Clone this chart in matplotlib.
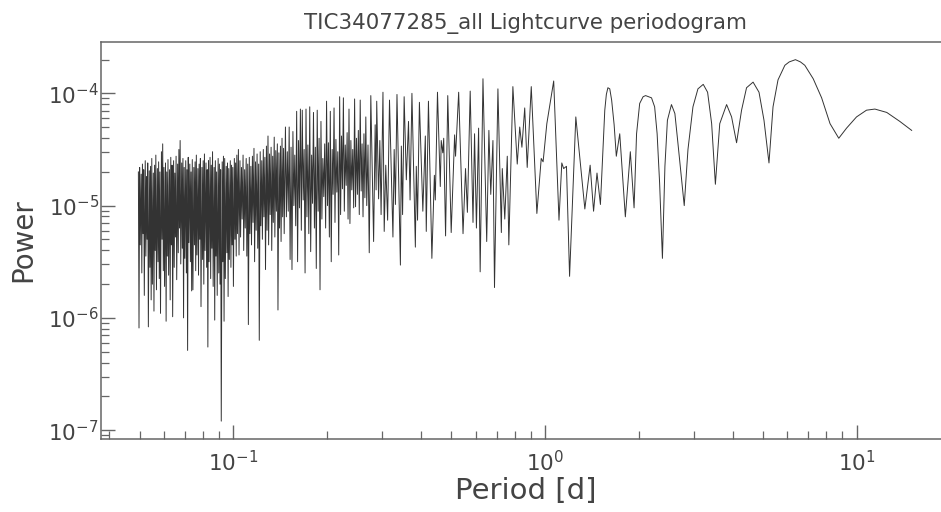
import numpy as np
import matplotlib
matplotlib.use("Agg")
import matplotlib.pyplot as plt

# values, in log10 units (period in days, power)
# dense part, 0.05 d .. 0.104 d
logp_a = [-1.305, -1.303, -1.301, -1.299, -1.296, -1.294, -1.292, -1.290, -1.288, -1.286,
          -1.283, -1.281, -1.279, -1.277, -1.275, -1.273, -1.270, -1.268, -1.266, -1.264,
          -1.262, -1.260, -1.257, -1.255, -1.253, -1.251, -1.249, -1.247, -1.244, -1.242,
          -1.240, -1.238, -1.236, -1.234, -1.231, -1.229, -1.227, -1.225, -1.223, -1.221,
          -1.218, -1.216, -1.214, -1.212, -1.210, -1.208, -1.205, -1.203, -1.201, -1.199,
          -1.197, -1.195, -1.192, -1.190, -1.188, -1.186, -1.184, -1.182, -1.179, -1.177,
          -1.175, -1.173, -1.171, -1.169, -1.166, -1.164, -1.162, -1.160, -1.158, -1.156,
          -1.153, -1.151, -1.149, -1.147, -1.145, -1.143, -1.140, -1.138, -1.136, -1.134,
          -1.132, -1.130, -1.127, -1.125, -1.123, -1.121, -1.119, -1.117, -1.114, -1.112,
          -1.110, -1.108, -1.106, -1.104, -1.101, -1.099, -1.097, -1.095, -1.093, -1.091,
          -1.088, -1.086, -1.084, -1.082, -1.080, -1.078, -1.075, -1.073, -1.071, -1.069,
          -1.067, -1.065, -1.062, -1.060, -1.058, -1.056, -1.054, -1.052, -1.049, -1.047,
          -1.045, -1.043, -1.041, -1.039, -1.036, -1.034, -1.032, -1.030, -1.028, -1.026,
          -1.023, -1.021, -1.019, -1.017, -1.015, -1.013, -1.010, -1.008, -1.006, -1.004,
          -1.002, -1.000, -0.997, -0.995, -0.993, -0.991, -0.989, -0.987, -0.984, -0.982]
logpow_a = [-4.70, -6.09, -4.66, -5.35, -4.72, -5.60, -4.63, -5.25, -4.68, -5.80,
            -4.60, -5.45, -4.74, -5.30, -4.62, -6.08, -4.69, -5.55, -4.65, -5.84,
            -4.58, -5.70, -4.71, -5.94, -4.64, -5.40, -4.55, -5.75, -4.67, -5.50,
            -4.61, -5.65, -4.70, -5.96, -4.52, -5.30, -4.45, -5.58, -4.66, -5.72,
            -4.62, -6.03, -4.70, -5.45, -4.59, -5.62, -4.68, -5.84, -4.57, -5.35,
            -4.64, -5.99, -4.60, -5.55, -4.71, -5.28, -4.56, -5.66, -4.63, -5.42,
            -4.50, -5.20, -4.42, -5.52, -4.62, -5.38, -4.58, -6.00, -4.66, -5.47,
            -4.60, -5.60, -4.68, -6.29, -4.57, -5.33, -4.63, -5.50, -4.70, -5.76,
            -4.59, -5.75, -4.66, -5.35, -4.61, -5.58, -4.55, -5.44, -4.67, -5.62,
            -4.63, -5.30, -4.58, -5.90, -4.66, -5.48, -4.60, -5.70, -4.54, -5.40,
            -4.62, -5.55, -4.68, -6.26, -4.60, -5.50, -4.57, -5.65, -4.64, -5.38,
            -4.52, -5.72, -4.66, -6.02, -4.60, -5.45, -4.70, -5.80, -4.58, -5.60,
            -4.63, -5.70, -4.68, -6.92, -4.61, -5.50, -4.56, -6.03, -4.58, -5.65,
            -4.65, -5.42, -4.62, -5.81, -4.67, -5.48, -4.60, -5.55, -4.64, -5.35,
            -4.66, -5.72, -4.58, -5.30, -4.62, -5.45, -4.55, -5.25, -4.50, -5.44]

# 0.105 d .. 0.146 d
logp_b = [-0.979, -0.977, -0.974, -0.972, -0.969, -0.967, -0.964, -0.962, -0.959, -0.957,
          -0.954, -0.952, -0.949, -0.947, -0.944, -0.942, -0.939, -0.937, -0.934, -0.932,
          -0.929, -0.927, -0.924, -0.922, -0.919, -0.917, -0.914, -0.912, -0.909, -0.907,
          -0.904, -0.902, -0.899, -0.897, -0.894, -0.892, -0.889, -0.887, -0.884, -0.882,
          -0.879, -0.877, -0.874, -0.872, -0.869, -0.867, -0.864, -0.862, -0.859, -0.857,
          -0.854, -0.852, -0.849, -0.847, -0.844, -0.842, -0.839, -0.837]
logpow_b = [-4.60, -5.28, -4.66, -5.12, -4.55, -5.40, -4.68, -5.20, -4.58, -5.45,
            -4.63, -6.06, -4.57, -5.25, -4.65, -5.35, -4.56, -5.15, -4.49, -5.50,
            -4.61, -5.22, -4.54, -5.38, -4.63, -6.20, -4.52, -5.18, -4.60, -5.30,
            -4.50, -5.10, -4.57, -5.57, -4.47, -5.22, -4.38, -5.35, -4.54, -5.08,
            -4.48, -5.40, -4.56, -5.15, -4.39, -5.28, -4.51, -5.05, -4.45, -5.93,
            -4.53, -5.20, -4.47, -5.32, -4.40, -5.10, -4.49, -5.25]

# 0.147 d .. 0.268 d
logp_c = [-0.833, -0.830, -0.827, -0.824, -0.821, -0.818, -0.815, -0.812, -0.809, -0.806,
          -0.803, -0.800, -0.797, -0.794, -0.791, -0.788, -0.785, -0.782, -0.779, -0.776,
          -0.773, -0.770, -0.767, -0.764, -0.761, -0.758, -0.755, -0.752, -0.749, -0.746,
          -0.743, -0.740, -0.737, -0.734, -0.731, -0.728, -0.725, -0.722, -0.719, -0.716,
          -0.713, -0.710, -0.707, -0.704, -0.701, -0.698, -0.695, -0.692, -0.689, -0.686,
          -0.683, -0.680, -0.677, -0.674, -0.671, -0.668, -0.665, -0.662, -0.659, -0.656,
          -0.653, -0.650, -0.647, -0.644, -0.641, -0.638, -0.635, -0.632, -0.629, -0.626,
          -0.623, -0.620, -0.617, -0.614, -0.611, -0.608, -0.605, -0.602, -0.599, -0.596,
          -0.593, -0.590, -0.587, -0.584, -0.581, -0.578, -0.575, -0.572]
logpow_c = [-4.30, -5.10, -4.52, -5.05, -4.30, -5.48, -4.48, -5.57, -4.34, -5.00,
            -4.55, -5.18, -4.16, -5.50, -4.42, -5.02, -4.14, -5.22, -4.15, -4.95,
            -4.50, -5.60, -4.14, -5.10, -4.46, -5.25, -4.12, -5.41, -4.55, -4.98,
            -4.17, -5.20, -4.48, -5.56, -4.15, -5.05, -4.40, -5.75, -4.25, -5.12,
            -4.58, -4.92, -4.45, -5.20, -4.07, -5.00, -4.44, -5.28, -4.16, -5.50,
            -4.50, -4.90, -4.13, -5.15, -4.41, -4.88, -4.52, -5.44, -4.03, -5.08,
            -4.38, -4.85, -4.04, -5.05, -4.46, -4.82, -4.35, -5.12, -4.14, -5.16,
            -4.42, -4.86, -4.50, -5.02, -4.05, -5.01, -4.40, -4.90, -4.33, -5.08,
            -4.06, -4.87, -4.45, -5.10, -4.36, -4.93, -4.21, -5.00]

# 0.27 d .. 0.46 d
logp_d = [-0.568, -0.564, -0.559, -0.550, -0.545, -0.542, -0.540, -0.534, -0.530, -0.526,
          -0.520, -0.516, -0.511, -0.505, -0.499, -0.488, -0.484, -0.480, -0.475, -0.464,
          -0.461, -0.457, -0.452, -0.445, -0.438, -0.433, -0.427, -0.416, -0.413, -0.409,
          -0.403, -0.392, -0.384, -0.381, -0.374, -0.363, -0.355, -0.352, -0.345, -0.336]
logpow_d = [-4.46, -5.42, -4.02, -5.32, -4.28, -4.86, -4.07, -4.94, -4.42, -5.08,
            -3.99, -5.23, -4.64, -5.13, -4.06, -5.28, -4.50, -4.99, -4.01, -5.53,
            -4.47, -5.08, -4.03, -4.77, -4.25, -4.95, -4.00, -5.37, -4.65, -5.13,
            -4.08, -5.05, -4.38, -5.23, -4.07, -5.47, -4.73, -4.95, -3.99, -4.83]

# 0.46 d .. 1.9 d
logp_e = [-0.333, -0.328, -0.325, -0.319, -0.312, -0.301, -0.290, -0.287, -0.277, -0.263,
          -0.255, -0.249, -0.240, -0.231, -0.226, -0.220, -0.213, -0.208, -0.199, -0.187,
          -0.180, -0.174, -0.167, -0.162, -0.151, -0.140, -0.137, -0.129, -0.121, -0.116,
          -0.103, -0.089, -0.081, -0.074, -0.065, -0.057, -0.044, -0.026, -0.012, -0.006,
          0.006, 0.028, 0.045, 0.054, 0.060, 0.069, 0.079, 0.099, 0.128, 0.145,
          0.156, 0.167, 0.178, 0.186, 0.192, 0.197, 0.202, 0.208, 0.214, 0.222,
          0.229, 0.240, 0.258, 0.274, 0.286]
logpow_e = [-4.42, -4.53, -4.40, -5.27, -4.02, -5.24, -4.37, -4.56, -3.99, -5.25,
            -4.67, -5.06, -3.98, -5.15, -4.36, -5.20, -4.31, -5.59, -3.87, -5.32,
            -4.33, -4.90, -4.42, -5.73, -3.96, -5.24, -4.67, -5.12, -4.56, -5.35,
            -3.94, -4.63, -4.30, -4.48, -4.13, -4.66, -3.94, -5.07, -4.58, -4.61,
            -4.27, -3.89, -5.13, -4.62, -4.67, -4.65, -5.63, -4.21, -5.03, -4.64,
            -5.05, -4.71, -4.99, -4.50, -4.15, -4.01, -3.95, -3.96, -4.06, -4.28,
            -4.56, -4.36, -5.10, -4.52, -5.02]

# 1.97 d .. 15 d
logp_f = [0.294, 0.304, 0.315, 0.323, 0.342, 0.352, 0.360, 0.368, 0.377, 0.385,
          0.393, 0.406, 0.417, 0.427, 0.447, 0.459, 0.475, 0.491, 0.508, 0.522,
          0.535, 0.547, 0.561, 0.583, 0.599, 0.615, 0.631, 0.647, 0.668, 0.687,
          0.703, 0.719, 0.732, 0.748, 0.770, 0.784, 0.804, 0.820, 0.834, 0.861,
          0.888, 0.915, 0.943, 0.968, 1.000, 1.032, 1.059, 1.097, 1.139, 1.177]
logpow_f = [-4.36, -4.09, -4.03, -4.02, -4.04, -4.12, -4.36, -4.80, -5.47, -4.65,
            -4.24, -4.10, -4.18, -4.45, -5.00, -4.50, -4.12, -3.96, -3.92, -3.99,
            -4.27, -4.81, -4.27, -4.10, -4.21, -4.44, -4.15, -3.95, -3.90, -3.99,
            -4.24, -4.62, -4.12, -3.88, -3.75, -3.72, -3.70, -3.72, -3.75, -3.87,
            -4.04, -4.27, -4.40, -4.31, -4.21, -4.15, -4.14, -4.17, -4.25, -4.33]

title = "TIC34077285_all Lightcurve periodogram"
xlabel = "Period [d]"
ylabel = "Power"

period = 10 ** np.concatenate([logp_a, logp_b, logp_c, logp_d, logp_e, logp_f])
power = 10 ** np.concatenate([logpow_a, logpow_b, logpow_c, logpow_d, logpow_e, logpow_f])

txt = "#444444"
fig = plt.figure(figsize=(9.41, 5.12), dpi=100)
# axes runs a little past the right edge, as in the cropped original
ax = fig.add_axes([101 / 941, (512 - 439.2) / 512, (950.3 - 101) / 941, (439.2 - 41.6) / 512])
ax.plot(period, power, color="#333333", lw=0.7)
ax.set_xscale("log")
ax.set_yscale("log")
ax.set_xlim(10 ** -1.425, 10 ** 1.301)
ax.set_ylim(10 ** -7.081, 10 ** -3.539)

for s in ax.spines.values():
    s.set_color("#666666")
    s.set_linewidth(1.1)
ax.tick_params(which="both", direction="in", top=False, right=False,
               color="#666666", labelcolor=txt, labelsize=15.5)
ax.tick_params(which="major", length=10, width=1.0)
ax.tick_params(which="minor", length=5.7, width=0.9)
ax.tick_params(axis="x", pad=8)
ax.tick_params(axis="y", pad=1.5)

ax.set_title(title, fontsize=15.4, color=txt, pad=9)
ax.set_xlabel(xlabel, fontsize=21, color=txt, labelpad=1)
ax.set_ylabel(ylabel, fontsize=20, color=txt, labelpad=8)

fig.savefig("out.png", dpi=100)
